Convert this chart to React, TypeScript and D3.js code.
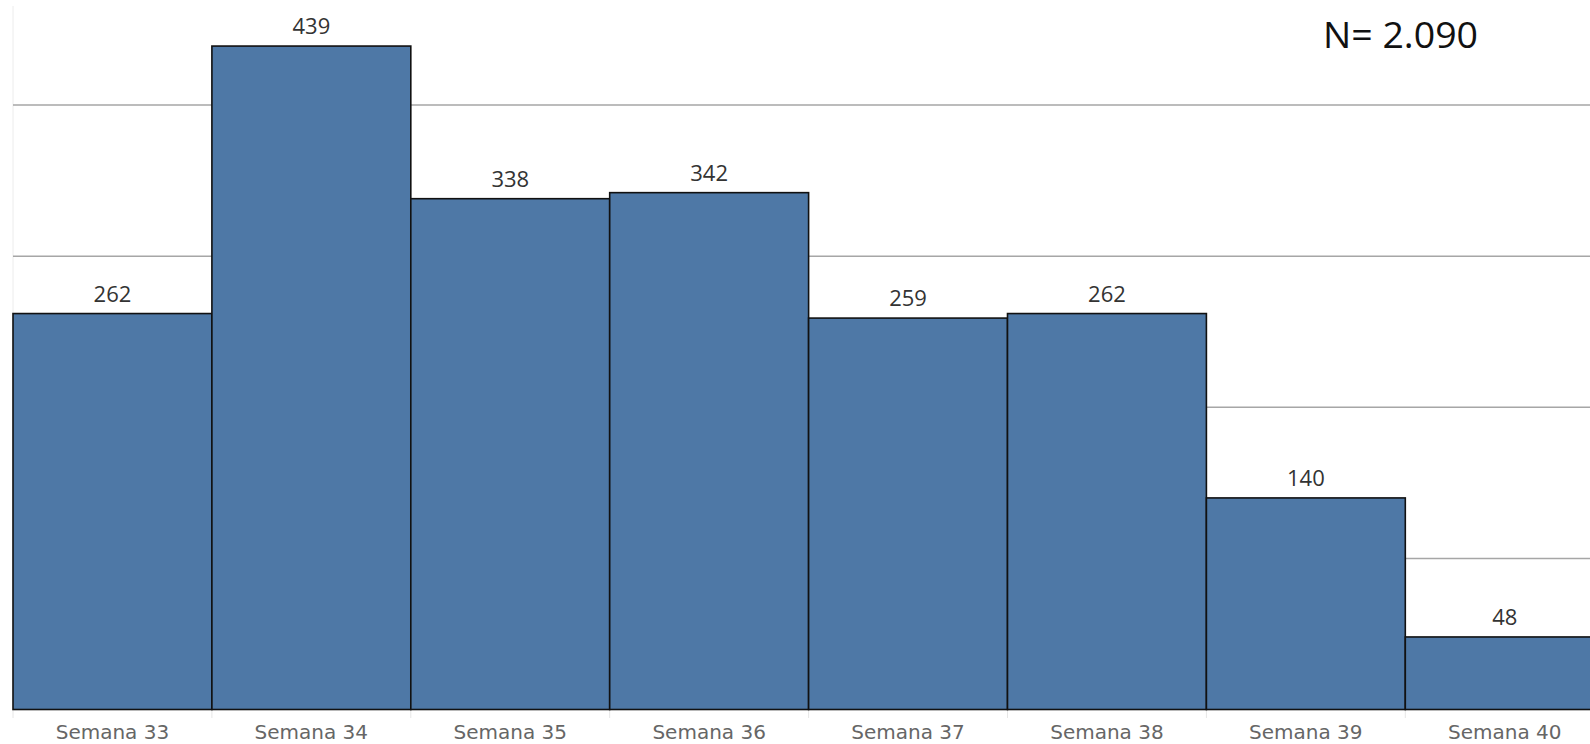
import React from "react";
import * as d3 from "d3";

const categories = ["Semana 33", "Semana 34", "Semana 35", "Semana 36", "Semana 37", "Semana 38", "Semana 39", "Semana 40"];
const values = [262, 439, 338, 342, 259, 262, 140, 48];
const gridTicks = [100, 200, 300, 400];
const totalLabel = "N= 2.090";

const W = 1590;
const H = 744;
const FONT = "'DejaVu Sans', 'Open Sans', sans-serif";
const FONT2 = "'Open Sans', 'DejaVu Sans', sans-serif";

export default function App() {
  const x = d3.scaleBand<string>().domain(categories).range([13, 13 + 8 * 198.9]).padding(0);
  const y = d3.scaleLinear().domain([0, 400]).range([709.5, 105]);

  return (
    <svg width={W} height={H} style={{ position: "absolute", left: 0, top: 0, background: "#fff" }}>
      <line x1={13} x2={13} y1={6} y2={709.5} stroke="#ececec" strokeWidth={1} />
      {gridTicks.map((t) => (
        <line key={t} x1={13} x2={W} y1={y(t)} y2={y(t)} stroke="#a6a6a6" strokeWidth={1.5} />
      ))}
      {categories.map((c) => (
        <line key={"t" + c} x1={x(c)!} x2={x(c)!} y1={709.5} y2={718} stroke="#e6e6e6" strokeWidth={1} />
      ))}
      {categories.map((c, i) => (
        <rect
          key={c}
          x={x(c)!}
          y={y(values[i])}
          width={x.bandwidth()}
          height={y(0) - y(values[i])}
          fill="#4e78a6"
          stroke="#111"
          strokeWidth={1.6}
        />
      ))}
      {categories.map((c, i) => (
        <text
          key={"v" + c}
          x={x(c)! + x.bandwidth() / 2}
          y={y(values[i]) - 12}
          textAnchor="middle"
          fontFamily={FONT2}
          fontSize={22}
          fill="#333"
        >
          {values[i]}
        </text>
      ))}
      {categories.map((c) => (
        <text
          key={"l" + c}
          x={x(c)! + x.bandwidth() / 2}
          y={739}
          textAnchor="middle"
          fontFamily={FONT}
          fontSize={20}
          fill="#666"
        >
          {c}
        </text>
      ))}
      <text
        x={1323}
        y={48}
        fontFamily={FONT2}
        fontSize={37}
        fill="#111"
        textLength={155}
        lengthAdjust="spacingAndGlyphs"
      >
        {totalLabel}
      </text>
    </svg>
  );
}
